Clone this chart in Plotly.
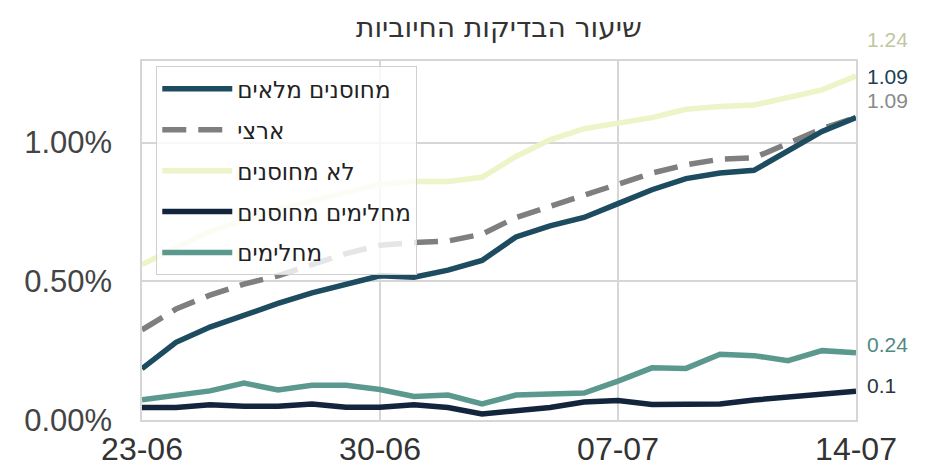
import plotly.graph_objects as go
import pandas as pd

# ---- data ----
dates = pd.date_range("2021-06-23", "2021-07-14", freq="D").strftime("%Y-%m-%d").tolist()

series_names = ["מחוסנים מלאים", "ארצי", "לא מחוסנים", "מחלימים מחוסנים", "מחלימים"]

fully_vaccinated = [0.185, 0.28, 0.335, 0.378, 0.42, 0.458, 0.49, 0.52, 0.515, 0.54, 0.575,
                    0.66, 0.70, 0.73, 0.78, 0.83, 0.87, 0.89, 0.90, 0.97, 1.04, 1.09]
national = [0.325, 0.40, 0.45, 0.49, 0.52, 0.56, 0.60, 0.63, 0.64, 0.645, 0.67,
            0.73, 0.77, 0.81, 0.85, 0.89, 0.92, 0.94, 0.945, 1.00, 1.05, 1.09]
unvaccinated = [0.56, 0.62, 0.68, 0.72, 0.76, 0.79, 0.82, 0.85, 0.86, 0.86, 0.875,
                0.95, 1.01, 1.05, 1.07, 1.09, 1.12, 1.13, 1.135, 1.16, 1.19, 1.24]
recovered_vaccinated = [0.045, 0.045, 0.055, 0.05, 0.05, 0.058, 0.046, 0.046, 0.055, 0.045, 0.022,
                        0.035, 0.045, 0.065, 0.07, 0.056, 0.056, 0.058, 0.072, 0.082, 0.09, 0.104]
recovered = [0.073, 0.088, 0.105, 0.133, 0.108, 0.125, 0.125, 0.11, 0.085, 0.09, 0.058,
             0.09, 0.095, 0.097, 0.14, 0.188, 0.186, 0.237, 0.232, 0.214, 0.25, 0.242]

title_text = "שיעור הבדיקות החיוביות"
x_tick_vals = ["2021-06-23", "2021-06-30", "2021-07-07", "2021-07-14"]
y_tick_vals = [0.0, 0.5, 1.0]
y_tick_text = [f"{v:.2f}%" for v in y_tick_vals]

# ---- styles ----
values = [fully_vaccinated, national, unvaccinated, recovered_vaccinated, recovered]
line_colors = ["#1d4b60", "#7f7f7f", "#ecf4c8", "#13253d", "#5b998f"]
label_colors = ["#1d3f52", "#8a8a8a", "#bfc6a0", "#2a3440", "#4f8a84"]
dashes = ["solid", "24px,12px", "solid", "solid", "solid"]
draw_order = [2, 4, 3, 1, 0]
label_yshift = [41, 17, 36, 6, 8]

fig = go.Figure()
for idx in draw_order:
    fig.add_trace(go.Scatter(
        x=dates, y=values[idx], mode="lines", name=series_names[idx],
        line=dict(color=line_colors[idx], width=5.5, dash=dashes[idx]),
        legendrank=idx + 1, legendgroup=f"g{idx}", hoverinfo="skip",
    ))

for idx in range(len(values)):
    v = values[idx][-1]
    fig.add_annotation(
        x=dates[-1], y=v, xref="x", yref="y", text=str(round(v, 2)),
        showarrow=False, xanchor="left", yanchor="middle",
        xshift=9, yshift=label_yshift[idx],
        font=dict(family="Liberation Sans", size=21, color=label_colors[idx]),
    )

fig.update_layout(
    width=928, height=471,
    margin=dict(l=134, r=80, t=53, b=48),
    paper_bgcolor="white", plot_bgcolor="white",
    title=dict(text=title_text, x=0.529, xanchor="center", y=0.96, yanchor="middle",
               yref="container",
               font=dict(family="DejaVu Sans", size=28, color="#333333")),
    showlegend=True,
    legend=dict(x=0.02, y=0.985, xanchor="left", yanchor="top",
                bgcolor="rgba(255,255,255,0.8)", bordercolor="#d0d0d0", borderwidth=1,
                font=dict(family="DejaVu Sans", size=23, color="#222222"),
                tracegroupgap=8, itemwidth=70, traceorder="grouped"),
    font=dict(family="Liberation Sans"),
)
fig.update_xaxes(
    type="date", range=[dates[0], dates[-1]],
    tickvals=x_tick_vals, tickformat="%d-%m",
    showgrid=True, gridcolor="#d6d6d6", gridwidth=1.5,
    showline=True, linecolor="#d6d6d6", linewidth=1.5, mirror=True,
    ticks="",
    tickfont=dict(family="Liberation Sans", size=32, color="#333333"),
    zeroline=False,
)
fig.update_yaxes(
    range=[0, 1.294], tickvals=y_tick_vals, ticktext=y_tick_text,
    showgrid=True, gridcolor="#d6d6d6", gridwidth=1.5,
    showline=True, linecolor="#d6d6d6", linewidth=1.5, mirror=True,
    ticks="", ticklabelstandoff=22,
    tickfont=dict(family="Liberation Sans", size=31, color="#444444"),
    zeroline=False,
)

fig.write_html("out.html")
